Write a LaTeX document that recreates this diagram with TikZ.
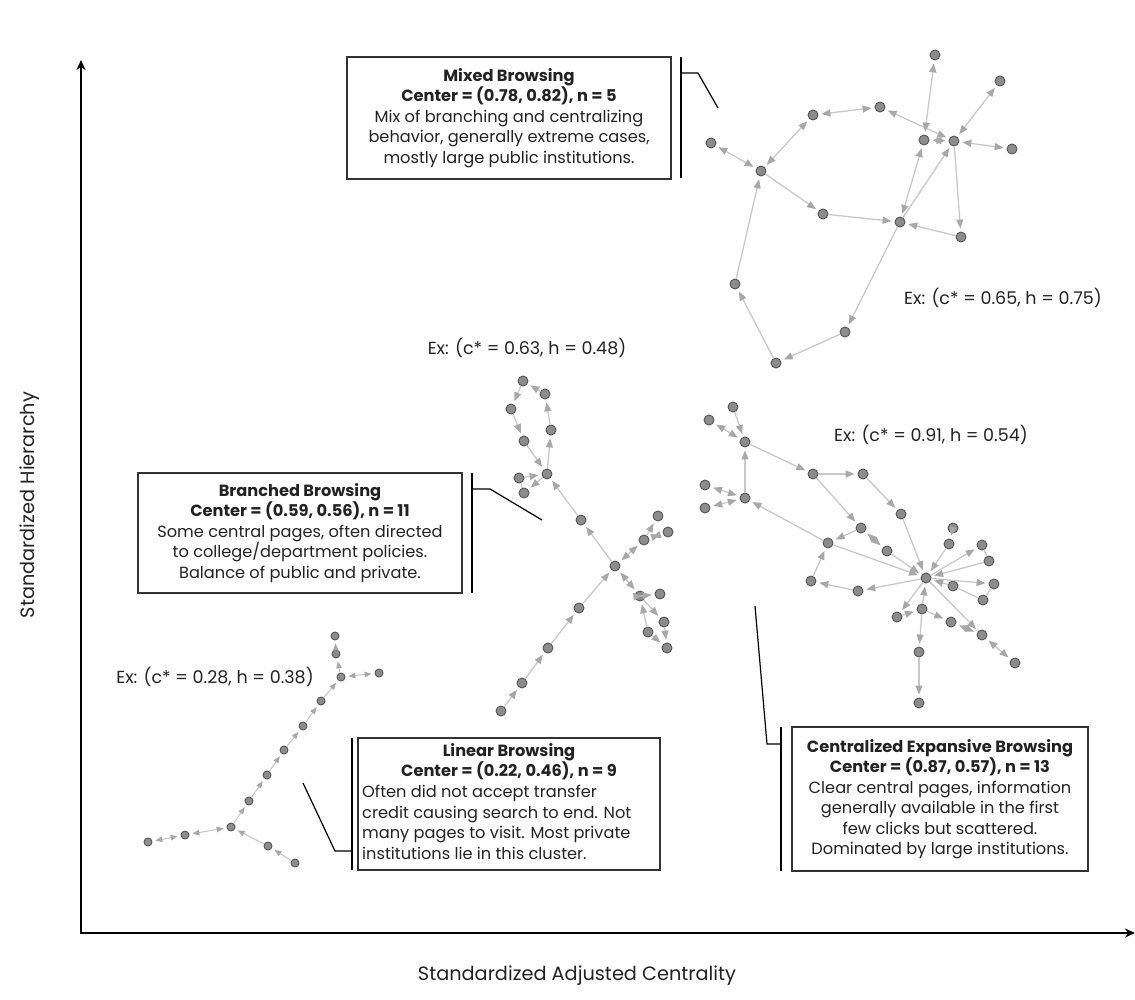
\documentclass[tikz,border=0pt]{standalone}
\usepackage{fontspec}
\setmainfont{Poppins}
\usetikzlibrary{arrows.meta}

\definecolor{nodefill}{HTML}{8C8C8C}
\definecolor{nodedraw}{HTML}{555555}
\definecolor{edgegray}{HTML}{C8C8C8}
\definecolor{tipgray}{HTML}{A8A8A8}
\definecolor{boxdraw}{HTML}{333333}
\definecolor{textgray}{HTML}{222222}

\tikzset{
  pg/.style={circle, fill=nodefill, draw=nodedraw, line width=0.9pt, minimum size=10pt, inner sep=0pt},
  pgs/.style={pg, minimum size=8pt},
  fw/.style={draw=edgegray, line width=1.3pt, -{Triangle[length=9pt,width=7pt,color=tipgray]}, shorten >=3pt},
  bi/.style={draw=edgegray, line width=1.3pt, {Triangle[length=9pt,width=7pt,color=tipgray]}-{Triangle[length=9pt,width=7pt,color=tipgray]}, shorten >=3pt, shorten <=3pt},
  fws/.style={draw=edgegray, line width=1.1pt, -{Triangle[length=7pt,width=5.5pt,color=tipgray]}, shorten >=3pt},
  bis/.style={draw=edgegray, line width=1.1pt, {Triangle[length=7pt,width=5.5pt,color=tipgray]}-{Triangle[length=7pt,width=5.5pt,color=tipgray]}, shorten >=3pt, shorten <=3pt},
  ln/.style={draw=edgegray, line width=1.3pt},
  boxfont/.style={font=\fontsize{16.2}{20.5}\selectfont, text=textgray},
  infobox/.style={draw=boxdraw, line width=1.2pt, inner sep=0pt, align=center, boxfont},
  bracket/.style={draw=black, line width=1.2pt},
  exlabel/.style={font=\fontsize{17.5}{20}\selectfont, inner sep=0pt, text=textgray},
  axis/.style={draw=black, line width=2.6pt, -{Stealth[length=10pt,width=9pt]}},
  axlabel/.style={font=\fontsize{19.3}{23}\selectfont, text=textgray},
}

\begin{document}
\begin{tikzpicture}[x=1pt,y=-1pt]
\useasboundingbox (0,0) rectangle (1135,999);

% axes
\coordinate (origin) at (81,933);
\coordinate (ytop) at (81,60);
\coordinate (xend) at (1135,933);
\draw[axis] (origin) -- (ytop);
\draw[axis] ([xshift=-1.3pt]origin) -- (xend);
\node[axlabel] (xlab) at (577,976) {Standardized Adjusted Centrality};
\node[axlabel, rotate=90] (ylab) at (30,505) {Standardized Hierarchy};

% ---------------- mixed browsing example ----------------
\node[pg] (mA) at (935,55) {};
\node[pg] (mB) at (1000,81) {};
\node[pg] (mC) at (880,107) {};
\node[pg] (mD) at (813,115) {};
\node[pg] (mE) at (711,143) {};
\node[pg] (mF) at (761,171) {};
\node[pg] (mG) at (924,140) {};
\node[pg] (mH) at (954,141) {};
\node[pg] (mI) at (1012,149) {};
\node[pg] (mJ) at (823,214) {};
\node[pg] (mK) at (900,222) {};
\node[pg] (mL) at (961,237) {};
\node[pg] (mM) at (735,284) {};
\node[pg] (mN) at (845,332) {};
\node[pg] (mO) at (776,363) {};
\draw[bi] (mE) -- (mF);
\draw[bi] (mF) -- (mD);
\draw[bi] (mD) -- (mC);
\draw[bi] (mC) -- (mH);
\draw[bi] (mG) -- (mH);
\draw[bi] (mH) -- (mI);
\draw[bi] (mH) -- (mB);
\draw[bi] (mG) -- (mA);
\draw[bi] (mK) -- (mG);
\draw[fw] (mH) -- (mL);
\draw[fw] (mL) -- (mK);
\draw[fw] (mF) -- (mJ);
\draw[fw] (mJ) -- (mK);
\draw[fw] (mK) -- (mH);
\draw[fw] (mK) -- (mN);
\draw[fw] (mN) -- (mO);
\draw[fw] (mO) -- (mM);
\draw[fw] (mM) -- (mF);
\node[exlabel] (mEx) at (1003,298) {Ex: (c* = 0.65, h = 0.75)};

\node[infobox, minimum width=324pt, minimum height=122pt] (mBox) at (509,118)
  {\textbf{Mixed Browsing}\\ \textbf{Center = (0.78, 0.82), n = 5}\\
   Mix of branching and centralizing\\ behavior, generally extreme cases,\\ mostly large public institutions.};
\coordinate (mb1) at (681,57);
\coordinate (mb2) at (681,178);
\coordinate (mb3) at (681,73);
\coordinate (mb4) at (698,73);
\coordinate (mb5) at (718,108);
\draw[bracket] (mb1) -- (mb2);
\draw[bracket] (mb3) -- (mb4) -- (mb5);

% ---------------- branched browsing example ----------------
\node[pg] (b1) at (523,381) {};
\node[pg] (b2) at (545,394) {};
\node[pg] (b3) at (511,409) {};
\node[pg] (b4) at (551,430) {};
\node[pg] (b5) at (524,441) {};
\node[pg] (b6) at (547,474) {};
\node[pg] (b7) at (519,478) {};
\node[pg] (b8) at (524,493) {};
\node[pg] (b9) at (581,520) {};
\node[pg] (b10) at (658,516) {};
\node[pg] (b11) at (668,532) {};
\node[pg] (b12) at (644,540) {};
\node[pg] (bc) at (615,566) {};
\node[pg] (b13) at (640,596) {};
\node[pg] (b14) at (660,594) {};
\node[pg] (b15) at (664,622) {};
\node[pg] (b16) at (648,632) {};
\node[pg] (b17) at (667,648) {};
\node[pg] (b18) at (579,608) {};
\node[pg] (b19) at (548,648) {};
\node[pg] (b20) at (522,683) {};
\node[pg] (b21) at (501,711) {};
\draw[fw] (b6) -- (b4);
\draw[fw] (b4) -- (b2);
\draw[fw] (b2) -- (b1);
\draw[fw] (b1) -- (b3);
\draw[fw] (b3) -- (b5);
\draw[fw] (b5) -- (b6);
\draw[fw] (b7) -- (b6);
\draw[fw] (b6) -- (b8);
\draw[ln] (b7) -- (b8);
\draw[fw] (b9) -- (b6);
\draw[fw] (bc) -- (b9);
\draw[bi] (bc) -- (b12);
\draw[fw] (b12) -- (b10);
\draw[bi] (b11) -- (b12);
\draw[bi] (bc) -- (b13);
\draw[bi] (b13) -- (b14);
\draw[fw] (b13) -- (b15);
\draw[fw] (b15) -- (b17);
\draw[fw] (b16) -- (b17);
\draw[fw] (b16) -- (b13);
\draw[fw] (b18) -- (bc);
\draw[fw] (b19) -- (b18);
\draw[fw] (b20) -- (b19);
\draw[fw] (b21) -- (b20);
\node[exlabel] (bEx) at (527,348) {Ex: (c* = 0.63, h = 0.48)};

\node[infobox, minimum width=324pt, minimum height=120pt] (bBox) at (300,533)
  {\textbf{Branched Browsing}\\ \textbf{Center = (0.59, 0.56), n = 11}\\
   Some central pages, often directed\\ to college/department policies.\\ Balance of public and private.};
\coordinate (bb1) at (472,473);
\coordinate (bb2) at (472,593);
\coordinate (bb3) at (472,489);
\coordinate (bb4) at (490,489);
\coordinate (bb5) at (542,520);
\draw[bracket] (bb1) -- (bb2);
\draw[bracket] (bb3) -- (bb4) -- (bb5);

% ---------------- centralized expansive browsing example ----------------
\node[pg] (p1) at (733,407) {};
\node[pg] (p2) at (709,420) {};
\node[pg] (p3) at (745,442) {};
\node[pg] (p4) at (813,474) {};
\node[pg] (p5) at (863,474) {};
\node[pg] (p6) at (705,485) {};
\node[pg] (p7) at (745,498) {};
\node[pg] (p8) at (705,508) {};
\node[pg] (p9) at (901,514) {};
\node[pg] (p10) at (861,528) {};
\node[pg] (p11) at (828,543) {};
\node[pg] (p12) at (887,551) {};
\node[pg] (hub) at (926,578) {};
\node[pg] (p13) at (953,528) {};
\node[pg] (p14) at (949,544) {};
\node[pg] (p15) at (982,545) {};
\node[pg] (p16) at (989,561) {};
\node[pg] (p17) at (811,581) {};
\node[pg] (p18) at (858,591) {};
\node[pg] (p19) at (953,586) {};
\node[pg] (p20) at (994,584) {};
\node[pg] (p21) at (983,600) {};
\node[pg] (p22) at (922,609) {};
\node[pg] (p23) at (897,617) {};
\node[pg] (p24) at (951,622) {};
\node[pg] (p25) at (982,635) {};
\node[pg] (p26) at (1015,663) {};
\node[pg] (p27) at (919,652) {};
\node[pg] (p28) at (919,703) {};
\draw[bi] (p2) -- (p3);
\draw[fw] (p1) -- (p3);
\draw[fw] (p7) -- (p3);
\draw[bi] (p6) -- (p7);
\draw[bi] (p8) -- (p7);
\draw[fw] (p3) -- (p4);
\draw[fw] (p4) -- (p5);
\draw[fw] (p4) -- (p10);
\draw[fw] (p5) -- (p9);
\draw[fw] (p9) -- (hub);
\draw[fw] (p10) -- (p11);
\draw[bi] (p10) -- (p12);
\draw[fw] (p12) -- (hub);
\draw[fw] (p11) -- (hub);
\draw[fw] (p11) -- (p7);
\draw[fw] (p17) -- (p11);
\draw[fw] (p18) -- (p17);
\draw[fw] (hub) -- (p18);
\draw[fw] (p13) -- (p14);
\draw[fw] (p14) -- (hub);
\draw[fw] (hub) -- (p15);
\draw[ln] (p15) -- (p16);
\draw[fw] (p16) -- (hub);
\draw[fw] (hub) -- (p20);
\draw[ln] (p20) -- (p21);
\draw[ln] (p21) -- (p19);
\draw[fw] (p19) -- (hub);
\draw[fw] (p22) -- (hub);
\draw[fw] (hub) -- (p23);
\draw[fw] (p23) -- (p22);
\draw[fw] (p22) -- (p24);
\draw[bi] (p24) -- (p25);
\draw[fw] (hub) -- (p25);
\draw[bi] (p25) -- (p26);
\draw[fw] (p22) -- (p27);
\draw[fw] (p27) -- (p28);
\node[exlabel] (cEx) at (931,435) {Ex: (c* = 0.91, h = 0.54)};

\node[infobox, minimum width=296pt, minimum height=144pt] (cBox) at (940,799)
  {\textbf{Centralized Expansive Browsing}\\ \textbf{Center = (0.87, 0.57), n = 13}\\
   Clear central pages, information\\ generally available in the first\\ few clicks but scattered.\\ Dominated by large institutions.};
\coordinate (cb1) at (781,727);
\coordinate (cb2) at (781,871);
\coordinate (cb3) at (781,744);
\coordinate (cb4) at (767,744);
\coordinate (cb5) at (755,606);
\draw[bracket] (cb1) -- (cb2);
\draw[bracket] (cb3) -- (cb4) -- (cb5);

% ---------------- linear browsing example ----------------
\node[pgs] (l1) at (335,636) {};
\node[pgs] (l2) at (336,654) {};
\node[pgs] (l3) at (341,677) {};
\node[pgs] (l4) at (379,673) {};
\node[pgs] (l5) at (321,701) {};
\node[pgs] (l6) at (303,726) {};
\node[pgs] (l7) at (284,750) {};
\node[pgs] (l8) at (267,775) {};
\node[pgs] (l9) at (249,801) {};
\node[pgs] (l10) at (231,827) {};
\node[pgs] (l11) at (185,835) {};
\node[pgs] (l12) at (148,842) {};
\node[pgs] (l13) at (268,846) {};
\node[pgs] (l14) at (295,863) {};
\draw[fws] (l2) -- (l1);
\draw[fws] (l3) -- (l2);
\draw[bis] (l3) -- (l4);
\draw[fws] (l5) -- (l3);
\draw[fws] (l6) -- (l5);
\draw[fws] (l7) -- (l6);
\draw[fws] (l8) -- (l7);
\draw[fws] (l9) -- (l8);
\draw[fws] (l10) -- (l9);
\draw[bis] (l11) -- (l10);
\draw[bis] (l12) -- (l11);
\draw[fws] (l13) -- (l10);
\draw[fws] (l14) -- (l13);
\node[exlabel] (lEx) at (215,677) {Ex: (c* = 0.28, h = 0.38)};

\node[draw=boxdraw, line width=1.2pt, minimum width=302pt, minimum height=132pt, inner sep=0pt] (lBox) at (509,804) {};
\node[boxfont, align=center, inner sep=0pt, anchor=north] (lTitle) at (509,743)
  {\textbf{Linear Browsing}\\ \textbf{Center = (0.22, 0.46), n = 9}};
\node[boxfont, align=left, inner sep=0pt, anchor=north west] (lBody) at (362,785)
  {Often did not accept transfer\\ credit causing search to end. Not\\ many pages to visit. Most private\\ institutions lie in this cluster.};
\coordinate (lb1) at (352,738);
\coordinate (lb2) at (352,870);
\coordinate (lb3) at (352,851);
\coordinate (lb4) at (335,851);
\coordinate (lb5) at (303,783);
\draw[bracket] (lb1) -- (lb2);
\draw[bracket] (lb3) -- (lb4) -- (lb5);
\end{tikzpicture}
\end{document}
